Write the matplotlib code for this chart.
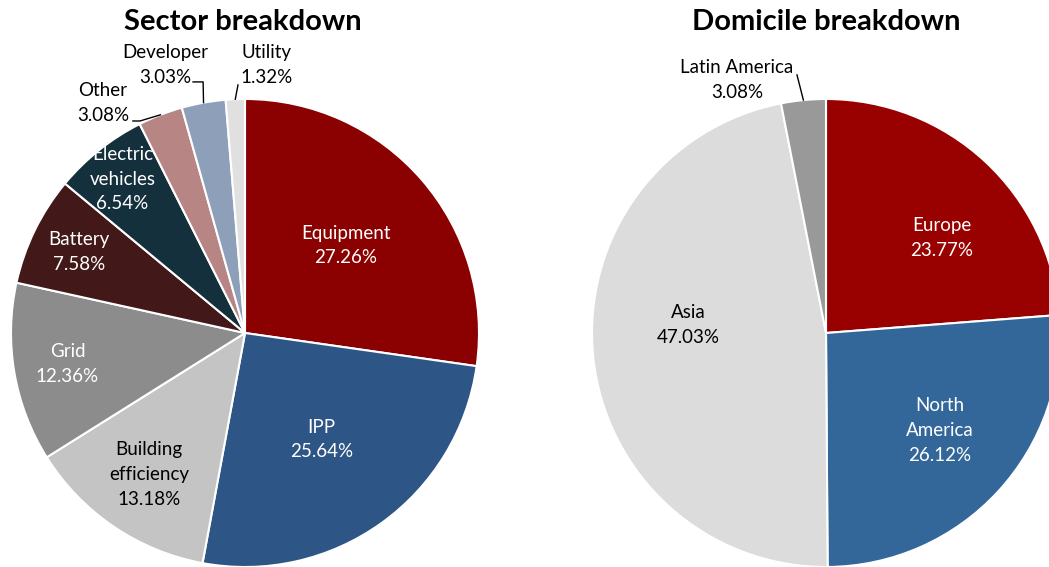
import matplotlib.pyplot as plt
import numpy as np

plt.rcParams['font.family'] = ['Lato', 'DejaVu Sans']

# Sector breakdown (clockwise from 12 o'clock)
sector_labels = ['Equipment', 'IPP', 'Building\nefficiency', 'Grid', 'Battery',
                 'Electric\nvehicles', 'Other', 'Developer', 'Utility']
sector_values = [27.26, 25.64, 13.18, 12.36, 7.58, 6.54, 3.08, 3.03, 1.32]
sector_colors = ['#8b0000', '#2d5585', '#c4c4c4', '#8c8c8c', '#431818',
                 '#15303d', '#b88585', '#8e9fb9', '#e0e0e0']
sector_text = ['white', 'white', 'black', 'white', 'white', 'white', 'black', 'black', 'black']
sector_dist = [0.57, 0.56, 0.73, 0.77, 0.79, 0.84, None, None, None]
sector_shift = [0, 0, 0, 0, 0, 0, 0, 0, 0]

# Domicile breakdown
dom_labels = ['Europe', 'North\nAmerica', 'Asia', 'Latin America']
dom_values = [23.77, 26.12, 47.03, 3.08]
dom_colors = ['#990000', '#33679a', '#dcdcdc', '#999999']
dom_text = ['white', 'white', 'black', 'black']
dom_dist = [0.64, 0.64, 0.59, None]
dom_shift = [-8, 2, -9, 0]

W, H = 1049, 567
fig = plt.figure(figsize=(W / 100, H / 100), dpi=100)
R = 234
FS = 13.5


def make_ax(cx, cy):
    # cx, cy in pixels from top-left
    ax = fig.add_axes([(cx - R) / W, (H - cy - R) / H, 2 * R / W, 2 * R / H])
    return ax


def draw_pie(ax, values, colors, labels, tcolors, dists, shifts, outside):
    wedges, _ = ax.pie(values, colors=colors, startangle=90, counterclock=False,
                       radius=1, center=(0, 0), frame=True,
                       wedgeprops=dict(edgecolor='white', linewidth=1.5))
    ax.set_xlim(-1, 1)
    ax.set_ylim(-1, 1)
    ax.set_aspect('auto')
    ax.axis('off')
    for i, w in enumerate(wedges):
        txt = f'{labels[i]}\n{values[i]:.2f}%'
        theta = np.deg2rad((w.theta1 + w.theta2) / 2)
        if dists[i] is not None:
            t = theta + np.deg2rad(shifts[i])
            ax.text(dists[i] * np.cos(t), dists[i] * np.sin(t), txt,
                    ha='center', va='center', color=tcolors[i], fontsize=FS,
                    linespacing=1.55)
        else:
            (tx, ty), pts = outside[i]
            ax.text(tx, ty, txt, ha='center', va='center', color='black',
                    fontsize=FS, linespacing=1.55, clip_on=False)
            xs = [p[0] for p in pts] + [np.cos(theta)]
            ys = [p[1] for p in pts] + [np.sin(theta)]
            ax.plot(xs, ys, color='black', lw=1, clip_on=False)


ax1 = make_ax(245, 333)
outside1 = {
    6: ((-0.607, 0.983), [(-0.479, 0.906), (-0.449, 0.906)]),
    7: ((-0.342, 1.145), [(-0.222, 1.073), (-0.179, 1.073)]),
    8: ((0.094, 1.145), [(-0.030, 1.060)]),
}
draw_pie(ax1, sector_values, sector_colors, sector_labels, sector_text,
         sector_dist, sector_shift, outside1)

ax2 = make_ax(826, 333)
outside2 = {
    3: ((-0.380, 1.081), [(-0.124, 1.103)]),
}
draw_pie(ax2, dom_values, dom_colors, dom_labels, dom_text,
         dom_dist, dom_shift, outside2)

fig.text(243 / W, 1 - 22 / H, 'Sector breakdown', fontsize=21, fontweight='bold',
         ha='center', va='center')
fig.text(826 / W, 1 - 22 / H, 'Domicile breakdown', fontsize=21, fontweight='bold',
         ha='center', va='center')

fig.savefig('out.png', dpi=100)
